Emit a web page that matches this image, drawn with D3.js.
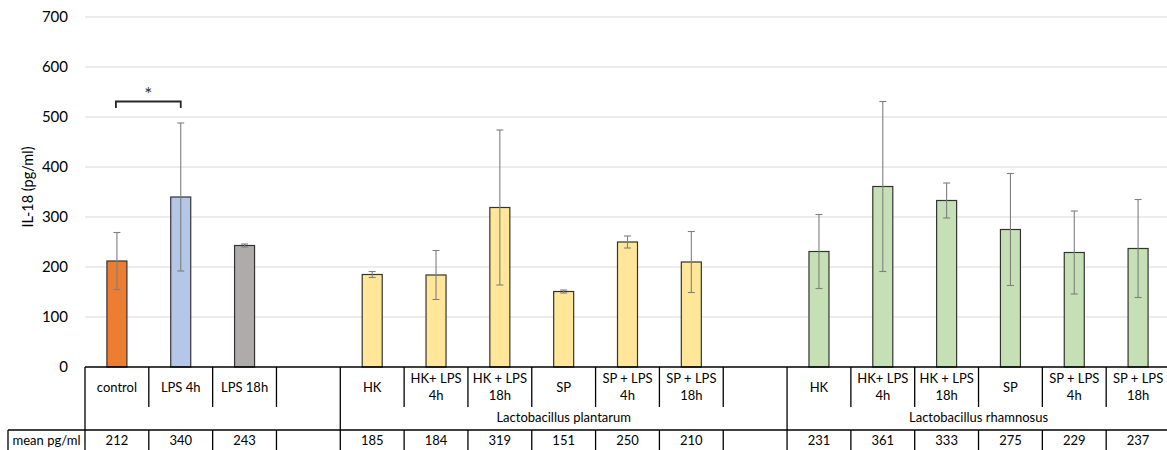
<!DOCTYPE html>
<html>
<head>
<meta charset="utf-8">
<script src="https://cdn.jsdelivr.net/npm/d3@7"></script>
<style>
  html, body { margin: 0; padding: 0; background: #fff; }
  svg { display: block; font-family: Lato, "Open Sans", sans-serif; }
</style>
</head>
<body>
<svg id="chart" width="1167" height="450"></svg>
<script>
// Category slots along the x axis (blank slots separate the groups)
const categories = [
  "control", "LPS 4h", "LPS 18h", "",
  "HK", "HK+ LPS\n4h", "HK + LPS\n18h", "SP", "SP + LPS\n4h", "SP + LPS\n18h", "",
  "HK", "HK+ LPS\n4h", "HK + LPS\n18h", "SP", "SP + LPS\n4h", "SP + LPS\n18h"
];
// Mean IL-18 (pg/ml) for each slot
const means = [212, 340, 243, null, 185, 184, 319, 151, 250, 210, null, 231, 361, 333, 275, 229, 237];
// Error bar half-lengths (pg/ml)
const errors = [57, 148, 3, null, 6, 49, 155, 3, 12, 61, null, 74, 170, 35, 112, 83, 98];
// Outer category groups and how many slots each spans
const groupNames = ["", "Lactobacillus plantarum", "Lactobacillus rhamnosus"];
const groupSpans = [4, 7, 6];
// Series key per slot, used to pick a fill
const seriesKeys = ["control", "lps4", "lps18", null, "lp", "lp", "lp", "lp", "lp", "lp", null, "lr", "lr", "lr", "lr", "lr", "lr"];
const yTicks = [0, 100, 200, 300, 400, 500, 600, 700];

const fills = { control: "#ED7D31", lps4: "#B4C7E7", lps18: "#AFABAB", lp: "#FFE699", lr: "#C5E0B4" };

const svg = d3.select("#chart");
const left = 85, right = 1170, y0 = 367, yTop = 17;
const rowCat = 407, rowGroup = 430, rowEnd = 450;

const x = d3.scaleBand().domain(d3.range(categories.length)).range([left, right]).padding(0);
const y = d3.scaleLinear().domain([0, 700]).range([y0, yTop]);

// Gridlines
svg.append("g").selectAll("line").data(yTicks.slice(1)).join("line")
  .attr("x1", left).attr("x2", right)
  .attr("y1", d => y(d)).attr("y2", d => y(d))
  .attr("stroke", "#d9d9d9").attr("stroke-width", 1);

// Y axis tick labels
const yAxis = d3.axisLeft(y).tickValues(yTicks).tickSize(0).tickPadding(17);
const ga = svg.append("g").attr("transform", `translate(${left},0)`).call(yAxis);
ga.select(".domain").remove();
ga.selectAll("text").attr("font-size", 15).attr("fill", "#000").attr("font-family", "Lato, sans-serif");

// Y axis title
svg.append("text")
  .attr("transform", `translate(33,${y(360)}) rotate(-90)`)
  .attr("text-anchor", "middle")
  .attr("font-size", 14.5)
  .text("IL-18 (pg/ml)");

// Bars
const idx = d3.range(categories.length).filter(i => means[i] != null);
const bw = 20;
svg.append("g").selectAll("rect").data(idx).join("rect")
  .attr("x", i => x(i) + x.bandwidth() / 2 - bw / 2)
  .attr("width", bw)
  .attr("y", i => y(means[i]))
  .attr("height", i => y(0) - y(means[i]))
  .attr("fill", i => fills[seriesKeys[i]])
  .attr("stroke", "#333").attr("stroke-width", 1.2);

// Error bars
const eb = svg.append("g").attr("stroke", "#7f7f7f").attr("stroke-width", 1.1);
idx.forEach(i => {
  const cx = x(i) + x.bandwidth() / 2;
  const hi = y(means[i] + errors[i]), lo = y(means[i] - errors[i]);
  eb.append("line").attr("x1", cx).attr("x2", cx).attr("y1", hi).attr("y2", lo);
  eb.append("line").attr("x1", cx - 3.5).attr("x2", cx + 3.5).attr("y1", hi).attr("y2", hi);
  eb.append("line").attr("x1", cx - 3.5).attr("x2", cx + 3.5).attr("y1", lo).attr("y2", lo);
});

// Significance bracket between control and LPS 4h
const cA = x(0) + x.bandwidth() / 2 - 1, cB = x(1) + x.bandwidth() / 2;
svg.append("path")
  .attr("d", `M${cA},${y(518)} V${y(531)} H${cB} V${y(518)}`)
  .attr("fill", "none").attr("stroke", "#262626").attr("stroke-width", 1.8);
svg.append("text")
  .attr("x", (cA + cB) / 2).attr("y", y(552) + 10)
  .attr("text-anchor", "middle").attr("font-size", 19).attr("fill", "#333")
  .text("*");

// Table: axis line and row separators
const tbl = svg.append("g").attr("stroke", "#000").attr("stroke-width", 1.3);
tbl.append("line").attr("x1", left).attr("x2", right).attr("y1", y0).attr("y2", y0);
tbl.append("line").attr("x1", 8).attr("x2", right).attr("y1", rowGroup).attr("y2", rowGroup);
tbl.append("line").attr("x1", 8).attr("x2", 8).attr("y1", rowGroup).attr("y2", rowEnd);

// Group boundaries run through every row; slot boundaries skip the group row
const groupStarts = groupSpans.reduce((acc, s) => { acc.push(acc[acc.length - 1] + s); return acc; }, [0]);
d3.range(categories.length + 1).forEach(k => {
  const xx = k < categories.length ? x(k) : right;
  if (groupStarts.includes(k)) {
    tbl.append("line").attr("x1", xx).attr("x2", xx).attr("y1", y0).attr("y2", rowEnd);
  } else {
    tbl.append("line").attr("x1", xx).attr("x2", xx).attr("y1", y0).attr("y2", rowCat);
    tbl.append("line").attr("x1", xx).attr("x2", xx).attr("y1", rowGroup).attr("y2", rowEnd);
  }
});

// Category labels
const catG = svg.append("g").attr("font-size", 13).attr("text-anchor", "middle");
categories.forEach((c, i) => {
  if (!c) return;
  const lines = c.split("\n");
  const cx = x(i) + x.bandwidth() / 2;
  const t = catG.append("text").attr("x", cx);
  if (lines.length === 1) {
    t.attr("y", 391.5).text(lines[0]);
  } else {
    lines.forEach((l, j) => t.append("tspan").attr("x", cx).attr("y", 382.5 + j * 17).text(l));
  }
});

// Group labels
groupNames.forEach((g, k) => {
  if (!g) return;
  const x1 = x(groupStarts[k]);
  const x2 = groupStarts[k + 1] < categories.length ? x(groupStarts[k + 1]) : right;
  svg.append("text").attr("x", (x1 + x2) / 2).attr("y", 422)
    .attr("text-anchor", "middle").attr("font-size", 13).text(g);
});

// Mean row
svg.append("text").attr("x", (8 + left) / 2).attr("y", 445)
  .attr("text-anchor", "middle").attr("font-size", 13).text("mean pg/ml");
svg.append("g").attr("font-size", 13).attr("text-anchor", "middle")
  .selectAll("text").data(idx).join("text")
  .attr("x", i => x(i) + x.bandwidth() / 2).attr("y", 445)
  .text(i => means[i]);
</script>
</body>
</html>
